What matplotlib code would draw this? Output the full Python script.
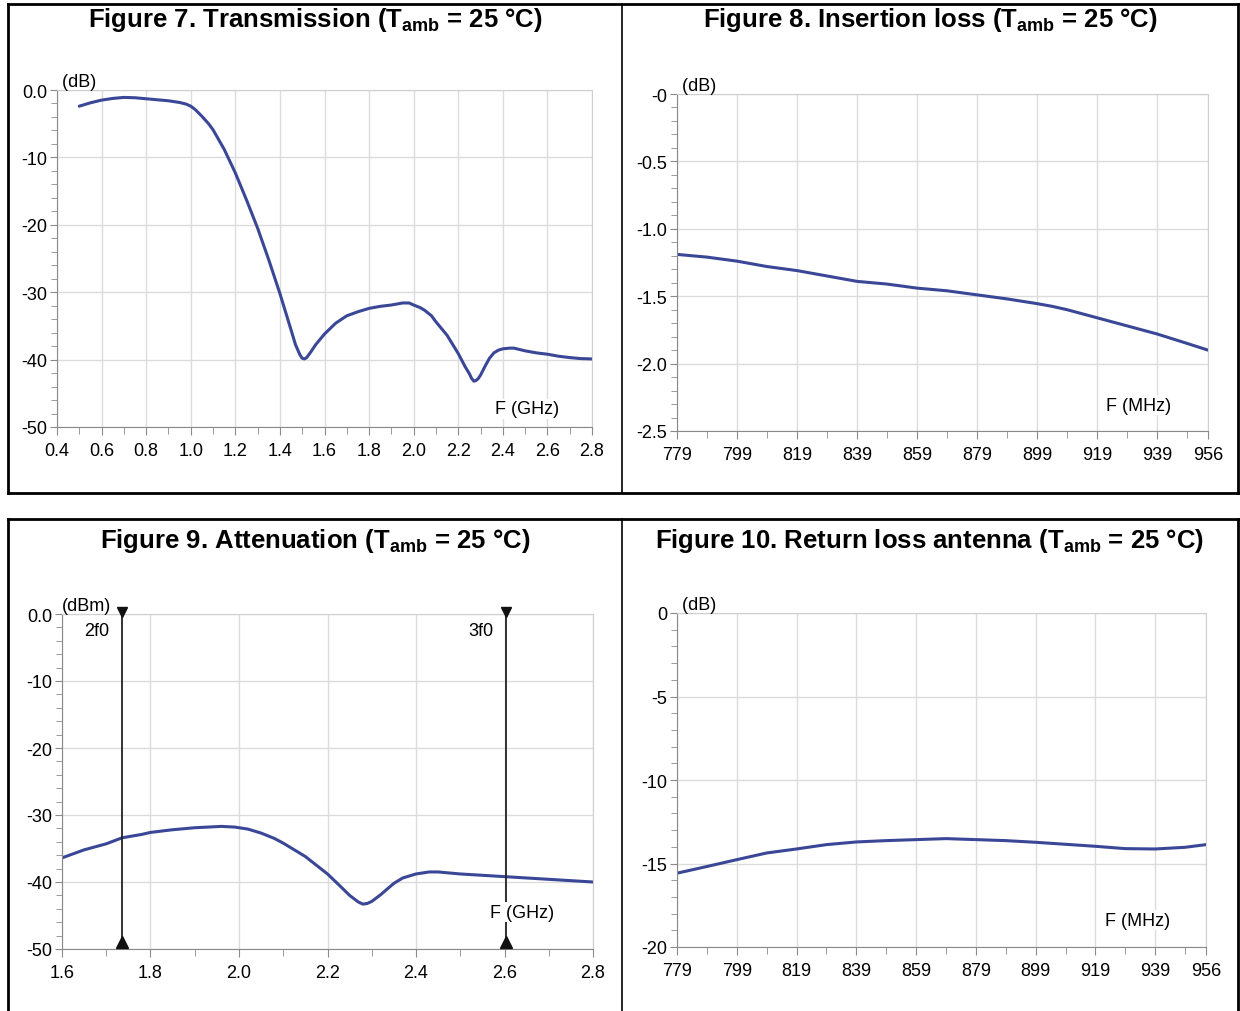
import numpy as np
import matplotlib.pyplot as plt
from matplotlib.lines import Line2D

plt.rcParams['font.family'] = ['Liberation Sans', 'DejaVu Sans']
plt.rcParams['mathtext.fontset'] = 'custom'
plt.rcParams['mathtext.rm'] = 'Liberation Sans'
plt.rcParams['mathtext.bf'] = 'Liberation Sans:bold'

# Figure 7 - transmission, GHz / dB
f7 = [0.50, 0.55, 0.60, 0.65, 0.70, 0.75, 0.80, 0.85, 0.90, 0.95, 0.98, 1.00, 1.02, 1.05,
      1.08, 1.10, 1.15, 1.20, 1.25, 1.30, 1.35, 1.40, 1.45, 1.47, 1.49, 1.50, 1.51, 1.52,
      1.54, 1.56, 1.58, 1.60, 1.65, 1.70, 1.75, 1.80, 1.85, 1.90, 1.95, 1.98, 2.00, 2.03,
      2.05, 2.08, 2.10, 2.15, 2.20, 2.23, 2.25, 2.26, 2.27, 2.28, 2.29, 2.30, 2.32, 2.34,
      2.36, 2.38, 2.40, 2.43, 2.45, 2.50, 2.55, 2.60, 2.65, 2.70, 2.75, 2.80]
s21 = [-2.4, -1.9, -1.5, -1.25, -1.1, -1.15, -1.3, -1.45, -1.6, -1.85, -2.1, -2.4, -2.9, -3.9,
       -5.0, -5.9, -8.8, -12.3, -16.3, -20.5, -25.2, -30.2, -35.6, -37.8, -39.3, -39.8, -39.9, -39.7,
       -38.8, -37.8, -37.0, -36.2, -34.6, -33.5, -32.9, -32.4, -32.1, -31.9, -31.6, -31.6, -31.9, -32.3,
       -32.7, -33.5, -34.4, -36.4, -39.1, -41.0, -42.1, -42.8, -43.2, -43.1, -42.8, -42.3, -41.0, -39.8,
       -39.0, -38.6, -38.4, -38.3, -38.3, -38.7, -39.0, -39.2, -39.5, -39.7, -39.85, -39.9]

# Figure 8 - insertion loss, MHz / dB
f8 = [779, 789, 799, 809, 819, 829, 839, 849, 859, 869, 879, 889, 899, 904, 909, 914,
      919, 929, 939, 949, 956]
il = [-1.19, -1.21, -1.24, -1.28, -1.31, -1.35, -1.39, -1.41, -1.44, -1.46, -1.49, -1.52,
      -1.555, -1.575, -1.60, -1.63, -1.66, -1.72, -1.78, -1.85, -1.90]

# Figure 9 - attenuation, GHz / dBm
f9 = [1.60, 1.65, 1.70, 1.736, 1.78, 1.80, 1.85, 1.90, 1.93, 1.96, 1.99, 2.02, 2.05, 2.08,
      2.10, 2.15, 2.20, 2.23, 2.25, 2.27, 2.28, 2.29, 2.30, 2.32, 2.35, 2.37, 2.40, 2.43,
      2.45, 2.50, 2.55, 2.60, 2.70, 2.80]
att = [-36.4, -35.2, -34.3, -33.4, -32.9, -32.6, -32.2, -31.9, -31.8, -31.7, -31.8, -32.1, -32.7, -33.5,
       -34.2, -36.2, -38.8, -40.7, -42.0, -43.0, -43.3, -43.2, -42.9, -41.9, -40.2, -39.4, -38.8, -38.5,
       -38.5, -38.8, -39.0, -39.2, -39.6, -40.0]
harmonics = [1.736, 2.604]
harm_labels = ['2f0', '3f0']

# Figure 10 - return loss antenna, MHz / dB
f10 = [779, 789, 799, 809, 819, 829, 839, 849, 859, 869, 879, 889, 899, 909, 919, 929, 939, 949, 956]
rl = [-15.58, -15.18, -14.77, -14.37, -14.13, -13.87, -13.71, -13.63, -13.57, -13.51, -13.57,
      -13.63, -13.73, -13.85, -13.97, -14.11, -14.13, -14.03, -13.87]

mhz_ticks = [779, 799, 819, 839, 859, 879, 899, 919, 939, 956]
mhz_minor = [789, 809, 829, 849, 869, 889, 909, 929, 949]

CURVE = '#3a4797'
GRID = '#dcdcdc'
FS = 13
W, H = 1240, 1012

fig = plt.figure(figsize=(12.4, 10.12), dpi=100)


def px(l, t, r, b):
    return [l / W, 1 - b / H, (r - l) / W, (b - t) / H]


def style(ax, xt, xl, xminor, yt, yl, yminor):
    ax.set_xticks(xt)
    ax.set_xticklabels(xl, fontsize=FS)
    ax.set_xticks(xminor, minor=True)
    ax.set_yticks(yt)
    ax.set_yticklabels(yl, fontsize=FS)
    ax.set_yticks(yminor, minor=True)
    ax.grid(True, which='major', color=GRID, lw=1.0)
    ax.set_axisbelow(True)
    for s in ('top', 'right'):
        ax.spines[s].set_color('#cfcfcf')
    for s in ('left', 'bottom'):
        ax.spines[s].set_color('#8a8a8a')
    ax.tick_params(which='both', color='#8a8a8a', direction='out')
    ax.tick_params(axis='x', which='major', length=6, pad=5)
    ax.tick_params(axis='x', which='minor', length=5)
    ax.tick_params(axis='y', which='major', length=5, pad=2)
    ax.tick_params(axis='y', which='minor', length=4)


def curve(ax, x, y):
    ax.plot(x, y, color=CURVE, lw=2.2, solid_joinstyle='round', solid_capstyle='round')


def title(x, y, num, name):
    fig.text(x / W, 1 - y / H,
             f'Figure {num}. {name} ($\\mathbf{{T_{{amb}}}}$ = 25 °C)',
             ha='center', va='center', fontsize=18.5, fontweight='bold')


# Figure 7
ax7 = fig.add_axes(px(57, 91, 592, 428))
curve(ax7, f7, s21)
ax7.set_xlim(0.4, 2.8)
ax7.set_ylim(-50, 0)
xt = np.round(np.arange(0.4, 2.81, 0.2), 1)
style(ax7, xt, [f'{v:.1f}' for v in xt], np.arange(0.5, 2.8, 0.2),
      [0, -10, -20, -30, -40, -50], ['0.0', '-10', '-20', '-30', '-40', '-50'],
      np.arange(-48, 0, 2))
ax7.text(0.0, 1.0, ' (dB)', transform=ax7.transAxes, ha='left', va='bottom', fontsize=FS)
ax7.text(2.51, -47.3, 'F (GHz)', ha='center', va='center', fontsize=FS,
         bbox=dict(fc='white', ec='none', pad=1))
title(315, 20, 7, 'Transmission')

# Figure 8
ax8 = fig.add_axes(px(677, 95, 1208, 432))
curve(ax8, f8, il)
ax8.set_xlim(779, 956)
ax8.set_ylim(-2.5, 0)
style(ax8, mhz_ticks, [str(v) for v in mhz_ticks], mhz_minor,
      [0, -0.5, -1.0, -1.5, -2.0, -2.5], ['-0', '-0.5', '-1.0', '-1.5', '-2.0', '-2.5'],
      np.arange(-2.4, 0, 0.1))
ax8.text(0.0, 1.0, ' (dB)', transform=ax8.transAxes, ha='left', va='bottom', fontsize=FS)
ax8.text(933, -2.31, 'F (MHz)', ha='center', va='center', fontsize=FS,
         bbox=dict(fc='white', ec='none', pad=1))
title(930, 20, 8, 'Insertion loss')

# Figure 9
ax9 = fig.add_axes(px(62, 615, 593, 950))
curve(ax9, f9, att)
ax9.set_xlim(1.6, 2.8)
ax9.set_ylim(-50, 0)
xt9 = np.round(np.arange(1.6, 2.81, 0.2), 1)
style(ax9, xt9, [f'{v:.1f}' for v in xt9], np.arange(1.7, 2.8, 0.2),
      [0, -10, -20, -30, -40, -50], ['0.0', '-10', '-20', '-30', '-40', '-50'],
      np.arange(-48, 0, 2))
for fx, lab in zip(harmonics, harm_labels):
    ax9.axvline(fx, color='#222222', lw=1.3, zorder=3)
    ax9.plot([fx], [0.3], marker='v', color='#111111', ms=7, clip_on=False, zorder=4)
    ax9.plot([fx], [-49], marker='^', color='#111111', ms=9, clip_on=False, zorder=4)
    ax9.text(fx - 0.03, -2.5, lab, ha='right', va='center', fontsize=FS)
ax9.text(0.0, 1.0, '(dBm)', transform=ax9.transAxes, ha='left', va='bottom', fontsize=FS)
ax9.text(2.64, -44.5, 'F (GHz)', ha='center', va='center', fontsize=FS, zorder=5,
         bbox=dict(fc='white', ec='none', pad=1))
title(315, 541, 9, 'Attenuation')

# Figure 10
ax10 = fig.add_axes(px(677, 614, 1206, 948))
curve(ax10, f10, rl)
ax10.set_xlim(779, 956)
ax10.set_ylim(-20, 0)
style(ax10, mhz_ticks, [str(v) for v in mhz_ticks], mhz_minor,
      [0, -5, -10, -15, -20], ['0', '-5', '-10', '-15', '-20'],
      np.arange(-19, 0, 1))
ax10.text(0.0, 1.0, ' (dB)', transform=ax10.transAxes, ha='left', va='bottom', fontsize=FS)
ax10.text(933, -18.4, 'F (MHz)', ha='center', va='center', fontsize=FS,
          bbox=dict(fc='white', ec='none', pad=1))
title(930, 541, 10, 'Return loss antenna')


# panel frames
def seg(x0, y0, x1, y1, lw=2.0):
    fig.add_artist(Line2D([x0 / W, x1 / W], [1 - y0 / H, 1 - y1 / H],
                          color='black', lw=lw, transform=fig.transFigure))


seg(8, 5, 1238, 5)
seg(8, 494, 1238, 494)
seg(8, 5, 8, 494)
seg(1238, 5, 1238, 494)
seg(622, 5, 622, 494, 1.2)
seg(8, 520, 1238, 520)
seg(8, 520, 8, 1012)
seg(1238, 520, 1238, 1012)
seg(622, 520, 622, 1012, 1.2)

fig.savefig('out.png', dpi=100)
